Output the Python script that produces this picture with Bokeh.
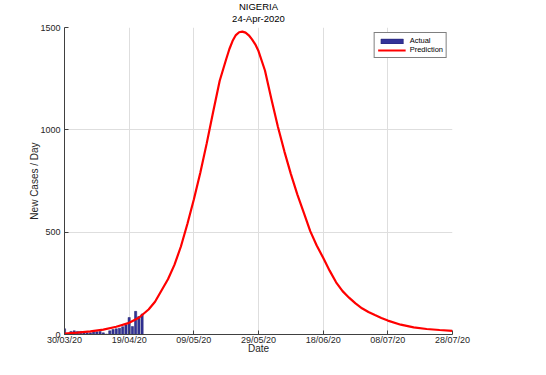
import pandas as pd
from bokeh.plotting import figure
from bokeh.models import (Range1d, FixedTicker, DatetimeTickFormatter, Title,
                          Legend, LegendItem, LinearAxis)
from bokeh.embed import file_html
from bokeh.resources import INLINE

# ---------------- data ----------------
title_country = "NIGERIA"
title_date = "24-Apr-2020"
start_date = "2020-03-30"

# daily new cases (bars), one per day starting 30/03/20
actual_cases = [28, 4, 15, 18, 15, 15, 13, 8, 8, 15, 13, 15, 8, 2,
                18, 25, 28, 31, 38, 47, 83, 39, 113, 88, 100]

# prediction curve: days after start date, and values
pred_days = [0, 4, 8, 12, 16, 20, 23, 26, 28, 30, 32, 34, 36, 38, 40, 42, 44,
             46, 48, 50, 51, 52, 53, 54, 55, 56, 57, 58, 59, 60, 62, 64, 66,
             68, 70, 72, 74, 76, 78, 80, 82, 84, 86, 88, 90, 92, 94, 96, 98,
             100, 104, 108, 112, 116, 120]
pred_values = [5, 9, 15, 24, 38, 57, 82, 122, 160, 215, 270, 340, 430, 540,
               660, 790, 935, 1090, 1240, 1345, 1395, 1435, 1463, 1477, 1480,
               1475, 1462, 1442, 1418, 1385, 1290, 1150, 1015, 895, 785, 685,
               595, 505, 435, 375, 312, 255, 212, 180, 152, 128, 110, 95, 81,
               68, 48, 35, 27, 22, 18]

x_tick_labels = ["30/03/20", "19/04/20", "09/05/20", "29/05/20",
                 "18/06/20", "08/07/20", "28/07/20"]
y_ticks = [0, 500, 1000, 1500]

# ---------------- derived ----------------
start = pd.Timestamp(start_date)
actual_dates = pd.date_range(start, periods=len(actual_cases), freq="D")
pred_dates = start + pd.to_timedelta(pred_days, unit="D")
tick_dates = pd.to_datetime(x_tick_labels, format="%d/%m/%y")
tick_ms = [t.timestamp() * 1000.0 for t in tick_dates]
DAY_MS = 86400000.0

FONT = "Liberation Sans"
TXT = "#262626"

p = figure(width=530, height=362, x_axis_type="datetime",
           x_range=Range1d(tick_ms[0], tick_ms[-1]),
           y_range=Range1d(y_ticks[0], y_ticks[-1]),
           output_backend="svg", toolbar_location=None,
           min_border_left=64, min_border_right=78,
           min_border_top=27, min_border_bottom=28)
p.outline_line_color = None
p.background_fill_color = "white"
p.border_fill_color = "white"

bars = p.vbar(x=actual_dates, top=actual_cases, width=0.68 * DAY_MS,
              fill_color="#333399", line_color="#20206a", line_width=0.5)
line = p.line(pred_dates, pred_values, line_color="#ff0000", line_width=2.2)

# axes
p.xaxis.ticker = FixedTicker(ticks=tick_ms)
fmt = "%d/%m/%y"
p.xaxis.formatter = DatetimeTickFormatter(
    microseconds=fmt, milliseconds=fmt, seconds=fmt, minsec=fmt, minutes=fmt,
    hourmin=fmt, hours=fmt, days=fmt, months=fmt, years=fmt)
p.yaxis.ticker = FixedTicker(ticks=y_ticks)
p.xaxis.axis_label = "Date"
p.yaxis.axis_label = "New Cases / Day"

for ax in (p.xaxis[0], p.yaxis[0]):
    ax.axis_line_color = "#404040"
    ax.axis_line_width = 1
    ax.major_tick_line_color = "#404040"
    ax.major_tick_in = 4
    ax.major_tick_out = 0
    ax.minor_tick_line_color = None
    ax.major_label_text_font = FONT
    ax.major_label_text_font_size = "9px"
    ax.major_label_text_color = TXT
    ax.axis_label_text_font = FONT
    ax.axis_label_text_font_size = "10px"
    ax.axis_label_text_font_style = "normal"
    ax.axis_label_text_color = TXT
p.xaxis.major_label_standoff = 0
p.xaxis.axis_label_standoff = -5
p.yaxis.major_label_standoff = 4
p.yaxis.axis_label_standoff = -3

p.xgrid.grid_line_color = "#dedede"
p.ygrid.grid_line_color = "#dedede"

# title: date line (as a tick-less top axis label) with the country above it
date_axis = LinearAxis(ticker=FixedTicker(ticks=[]), axis_label=title_date,
                       axis_line_color=None, major_tick_line_color=None,
                       minor_tick_line_color=None,
                       major_label_text_font_size="0px",
                       major_tick_in=0, major_tick_out=0,
                       axis_label_standoff=4, axis_label_text_font=FONT,
                       axis_label_text_font_size="9.5px",
                       axis_label_text_font_style="normal",
                       axis_label_text_color="black")
p.add_layout(date_axis, "above")
p.add_layout(Title(text=title_country, align="center", text_font=FONT,
                   text_font_size="9.5px", text_font_style="normal",
                   text_color="black", standoff=-5), "above")

legend = Legend(items=[LegendItem(label="Actual", renderers=[bars]),
                       LegendItem(label="Prediction", renderers=[line])],
                location="top_right")
legend.margin = 5
legend.padding = 3
legend.spacing = 0
legend.glyph_width = 28
legend.glyph_height = 6
legend.label_height = 6
legend.label_standoff = 4
legend.label_text_font = FONT
legend.label_text_font_size = "7.5px"
legend.label_text_color = "black"
legend.border_line_color = "black"
legend.border_line_width = 0.8
legend.background_fill_alpha = 1.0
p.add_layout(legend)

open("out.html", "w").write(file_html(p, INLINE))
